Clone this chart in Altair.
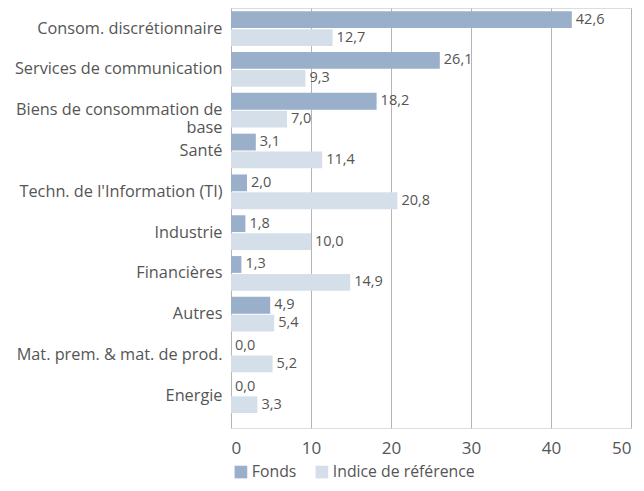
import altair as alt
import pandas as pd

categories = ["Consom. discrétionnaire", "Services de communication",
              "Biens de consommation de|base", "Santé",
              "Techn. de l'Information (TI)", "Industrie", "Financières",
              "Autres", "Mat. prem. & mat. de prod.", "Energie"]
fonds = [42.6, 26.1, 18.2, 3.1, 2.0, 1.8, 1.3, 4.9, 0.0, 0.0]
indice = [12.7, 9.3, 7.0, 11.4, 20.8, 10.0, 14.9, 5.4, 5.2, 3.3]
series = ["Fonds", "Indice de référence"]
colors = ["#9AAFCA", "#D5DFEA"]
x_ticks = [0, 10, 20, 30, 40, 50]

rows = []
for c, f, i in zip(categories, fonds, indice):
    rows.append({"cat": c, "series": series[0], "value": f})
    rows.append({"cat": c, "series": series[1], "value": i})
df = pd.DataFrame(rows)

FONT = "Open Sans"
TXT = "#555555"

y_enc = alt.Y("cat:N", sort=categories,
              scale=alt.Scale(paddingInner=0.15, paddingOuter=0.222, align=0.18),
              axis=alt.Axis(title=None, ticks=False, domain=False, grid=False,
                            labelExpr="split(datum.label, '|')",
                            labelFontSize=16.3, labelColor=TXT, labelPadding=9,
                            labelLimit=0, labelLineHeight=18, labelFont=FONT))
yoff = alt.YOffset("series:N", sort=series, scale=alt.Scale(paddingInner=0.06))
x_enc = alt.X("value:Q", scale=alt.Scale(domain=[0, 50], nice=False),
              axis=alt.Axis(values=x_ticks, title=None, grid=True, gridColor="#b5b5b5",
                            ticks=False, domain=False, labelFontSize=17,
                            labelColor=TXT, labelPadding=12, labelFont=FONT))

bars = alt.Chart(df).mark_bar().encode(
    y=y_enc, yOffset=yoff, x=x_enc,
    color=alt.Color("series:N", sort=series,
                    scale=alt.Scale(domain=series, range=colors),
                    legend=alt.Legend(title=None, orient="none", legendX=2, legendY=456,
                                      direction="horizontal", symbolType="square",
                                      symbolSize=160, symbolStrokeWidth=0,
                                      symbolOpacity=1, labelFontSize=15.8,
                                      labelColor=TXT, labelFont=FONT,
                                      columnPadding=17, labelOffset=3)),
)

labels = alt.Chart(df).transform_calculate(
    lab="replace(format(datum.value, '.1f'), '.', ',')"
).mark_text(align="left", baseline="middle", dx=4, fontSize=14.5, color=TXT, font=FONT).encode(
    y=alt.Y("cat:N", sort=categories), yOffset=alt.YOffset("series:N", sort=series),
    x="value:Q", text="lab:N",
)

chart = alt.layer(bars, labels).properties(
    width=400, height=420,
    autosize=alt.AutoSizeParams(type="none"),
    padding={"left": 223, "top": 0, "right": 5, "bottom": 55},
).configure_view(stroke=None).configure(font=FONT)

chart.save("out.html", embed_options={"renderer": "svg", "actions": False})
